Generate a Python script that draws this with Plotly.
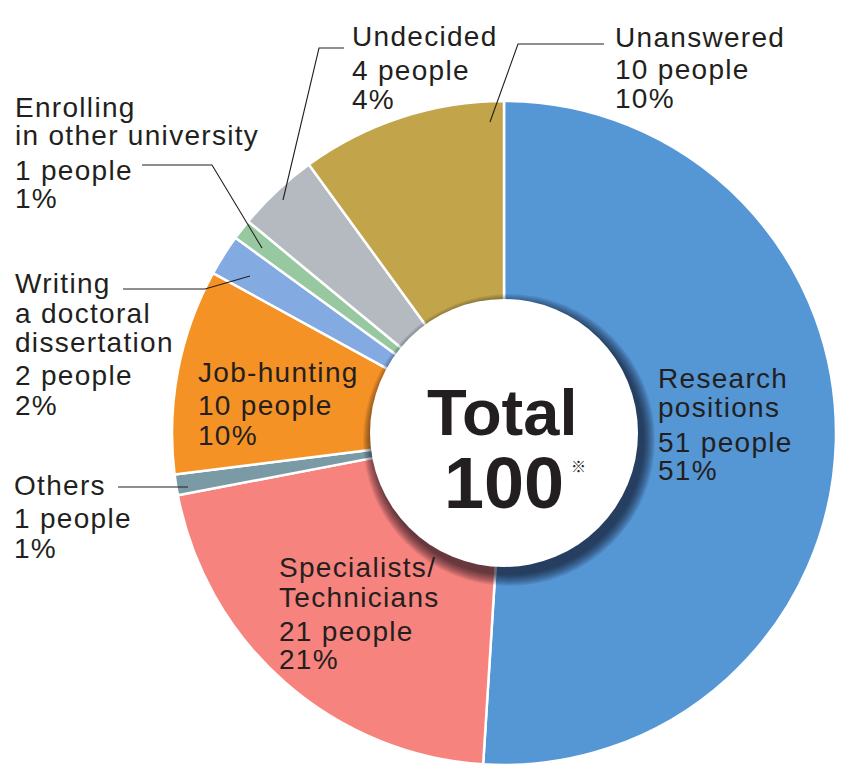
import plotly.graph_objects as go

# ---------------- data ----------------
categories = ["Research positions", "Specialists/Technicians", "Others", "Job-hunting",
              "Writing a doctoral dissertation", "Enrolling in other university",
              "Undecided", "Unanswered"]
label_lines = [["Research", "positions"], ["Specialists/", "Technicians"], ["Others"],
               ["Job-hunting"], ["Writing", "a doctoral", "dissertation"],
               ["Enrolling", "in other university"], ["Undecided"], ["Unanswered"]]
people = [51, 21, 1, 10, 2, 1, 4, 10]
total_label = "Total"
total_value = sum(people)
colors = ["#5596D5", "#F7837E", "#7A9BA6", "#F59225", "#83ABE2", "#98C8A0", "#B4BAC0", "#C2A54B"]

# ---------------- layout helpers ----------------
W, H = 863, 768
CX, CY, R = 504, 433, 332
INNER_R = 134


def px(x):
    return x / W


def py(y):
    return 1 - y / H


# label placement (left x, baselines in px)
label_left = [658, 279, 14, 198, 15, 15, 352, 615]
label_baselines = [[388, 417, 452, 480], [577, 607, 641, 669], [495, 528, 558],
                   [382, 415, 445], [293, 323, 352, 385, 415], [117, 145, 180, 208],
                   [46, 80, 109], [47, 79, 108]]
leaders = [None, None,
           [(118, 487), (188, 487)],
           None,
           [(123, 289), (205, 289), (250, 276)],
           [(142, 165), (212, 165), (262, 248)],
           [(344, 48), (319, 48), (283, 200)],
           [(604, 44), (518, 44), (490, 122)]]

FS = 28
FONT = "Liberation Sans"
TXT = "#231F20"

fig = go.Figure(go.Pie(
    labels=categories,
    values=people,
    sort=False,
    direction="clockwise",
    rotation=0,
    hole=0.36,
    marker=dict(colors=colors, line=dict(color="white", width=2.5)),
    textinfo="none",
    hoverinfo="label+value+percent",
    domain=dict(x=[px(CX - R), px(CX + R)], y=[py(CY + R), py(CY - R)]),
    showlegend=False,
))

shapes = []
# drop shadow of the center disc
for i in range(12):
    r = INNER_R + 12 - i
    ox, oy = 5, 7
    shapes.append(dict(type="circle", xref="paper", yref="paper", layer="above",
                       x0=px(CX + ox - r), x1=px(CX + ox + r),
                       y0=py(CY + oy + r), y1=py(CY + oy - r),
                       fillcolor="rgba(20,20,30,0.075)", line=dict(width=0)))
shapes.append(dict(type="circle", xref="paper", yref="paper", layer="above",
                   x0=px(CX - INNER_R), x1=px(CX + INNER_R),
                   y0=py(CY + INNER_R), y1=py(CY - INNER_R),
                   fillcolor="white", line=dict(width=0)))
for pts in leaders:
    if pts is None:
        continue
    path = "M " + " L ".join(f"{px(x)},{py(y)}" for x, y in pts)
    shapes.append(dict(type="path", xref="paper", yref="paper", layer="above",
                       path=path, line=dict(color="#231F20", width=1.1)))

annotations = []
for i, cat in enumerate(categories):
    pct = people[i] / total_value * 100
    lines = label_lines[i] + [f"{people[i]} people", f"{pct:.0f}%"]
    for line, base in zip(lines, label_baselines[i]):
        annotations.append(dict(xref="paper", yref="paper", x=px(label_left[i] - 2),
                                y=py(base - 0.3465 * FS), xanchor="left", yanchor="middle",
                                align="left", text=line, showarrow=False,
                                font=dict(family=FONT, size=FS, color=TXT)))

annotations.append(dict(xref="paper", yref="paper", x=px(502), y=py(435 - 0.3465 * 65),
                        xanchor="center", yanchor="middle", text=f"<b>{total_label}</b>",
                        showarrow=False, font=dict(family=FONT, size=65, color=TXT)))
annotations.append(dict(xref="paper", yref="paper", x=px(504), y=py(508 - 0.3465 * 72),
                        xanchor="center", yanchor="middle", text=f"<b>{total_value}</b>",
                        showarrow=False, font=dict(family=FONT, size=72, color=TXT)))
annotations.append(dict(xref="paper", yref="paper", x=px(578), y=py(465),
                        xanchor="center", yanchor="middle", text="※",
                        showarrow=False, font=dict(family="Noto Sans CJK JP", size=15, color=TXT)))

fig.update_layout(
    width=W, height=H,
    margin=dict(l=0, r=0, t=0, b=0),
    paper_bgcolor="white", plot_bgcolor="white",
    shapes=shapes, annotations=annotations,
)

# slightly wider tracking for the label text, as in the reference typography
post = """
var s = document.createElement('style');
s.textContent = '.annotation-text[style*="font-size: 28px"]{letter-spacing:1.3px;}';
document.head.appendChild(s);
"""
fig.write_html("out.html", post_script=post)
